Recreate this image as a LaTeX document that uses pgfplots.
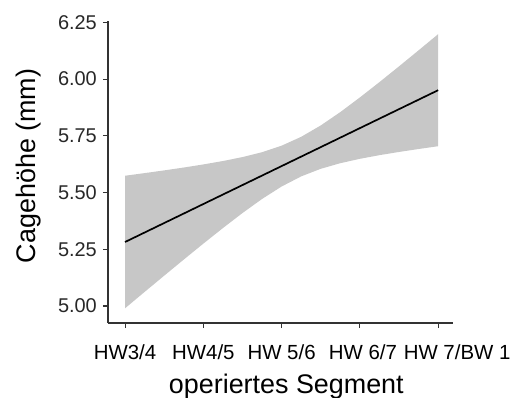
\documentclass[border=0pt]{standalone}
\usepackage{fontspec}
\setmainfont{Liberation Sans}
\usepackage{pgfplots}
\usepackage{pgfplotstable}
\pgfplotsset{compat=1.18}
\usepgfplotslibrary{fillbetween}

\definecolor{axisgray}{RGB}{51,51,51}
\definecolor{tickgray}{RGB}{40,40,40}
\definecolor{bandgray}{RGB}{199,199,199}

% fitted line with its 95% confidence band
\pgfplotstableread{
x     fit     lo      hi
1.00  5.2820  4.9900  5.5740
1.25  5.3238  5.0620  5.5856
1.50  5.3656  5.1336  5.5976
1.75  5.4074  5.2046  5.6102
2.00  5.4493  5.2748  5.6238
2.25  5.4911  5.3434  5.6388
2.50  5.5329  5.4096  5.6562
2.75  5.5747  5.4716  5.6778
3.00  5.6165  5.5265  5.7065
3.25  5.6583  5.5711  5.7455
3.50  5.7001  5.6046  5.7956
3.75  5.7419  5.6293  5.8545
4.00  5.7838  5.6486  5.9190
4.25  5.8256  5.6647  5.9865
4.50  5.8674  5.6788  6.0560
4.75  5.9092  5.6918  6.1266
5.00  5.9510  5.7041  6.1979
}\fitdata

\begin{document}
\begin{tikzpicture}
\begin{axis}[
  scale only axis,
  width=345bp, height=302bp,
  xmin=0.782, xmax=5.19,
  ymin=4.925, ymax=6.256,
  axis x line*=bottom, axis y line*=left,
  axis line style={-, color=axisgray, line width=1.1bp},
  xtick={1,2,3,4,5},
  xticklabels={HW3/4,HW4/5,HW 5/6,\hspace*{6bp}HW 6/7,\hspace*{38bp}HW 7/BW 1},
  ytick={5,5.25,5.5,5.75,6,6.25},
  /pgf/number format/fixed,
  /pgf/number format/fixed zerofill,
  /pgf/number format/precision=2,
  /pgf/number format/assume math mode=true,
  tick align=outside,
  major tick length=5bp,
  tick style={color=axisgray, line width=1.1bp},
  ticklabel style={text=tickgray},
  xticklabel style={font=\fontsize{20.5}{20.5}\selectfont, text=black, anchor=base, yshift=-31bp},
  yticklabel style={font=\fontsize{20}{20}\selectfont, anchor=east, inner sep=0pt, xshift=-6bp},
  xlabel={operiertes Segment},
  ylabel={Cagehöhe (mm)},
  xlabel style={at={(axis description cs:0.517,0)}, anchor=base, yshift=-70bp, font=\fontsize{27}{27}\selectfont},
  ylabel style={at={(axis description cs:-0.2116,0.52)}, anchor=base, font=\fontsize{27}{27}\selectfont},
  clip=false,
]
  \addplot[name path=upper, draw=none, forget plot] table[x=x, y=hi] {\fitdata};
  \addplot[name path=lower, draw=none, forget plot] table[x=x, y=lo] {\fitdata};
  \addplot[fill=bandgray, draw=none] fill between[of=upper and lower];
  \addplot[black, line width=1.7bp] table[x=x, y=fit] {\fitdata};
\end{axis}
\pgfresetboundingbox
\path[use as bounding box] (-108bp,-75bp) rectangle (411bp,323bp);
\end{tikzpicture}
\end{document}
